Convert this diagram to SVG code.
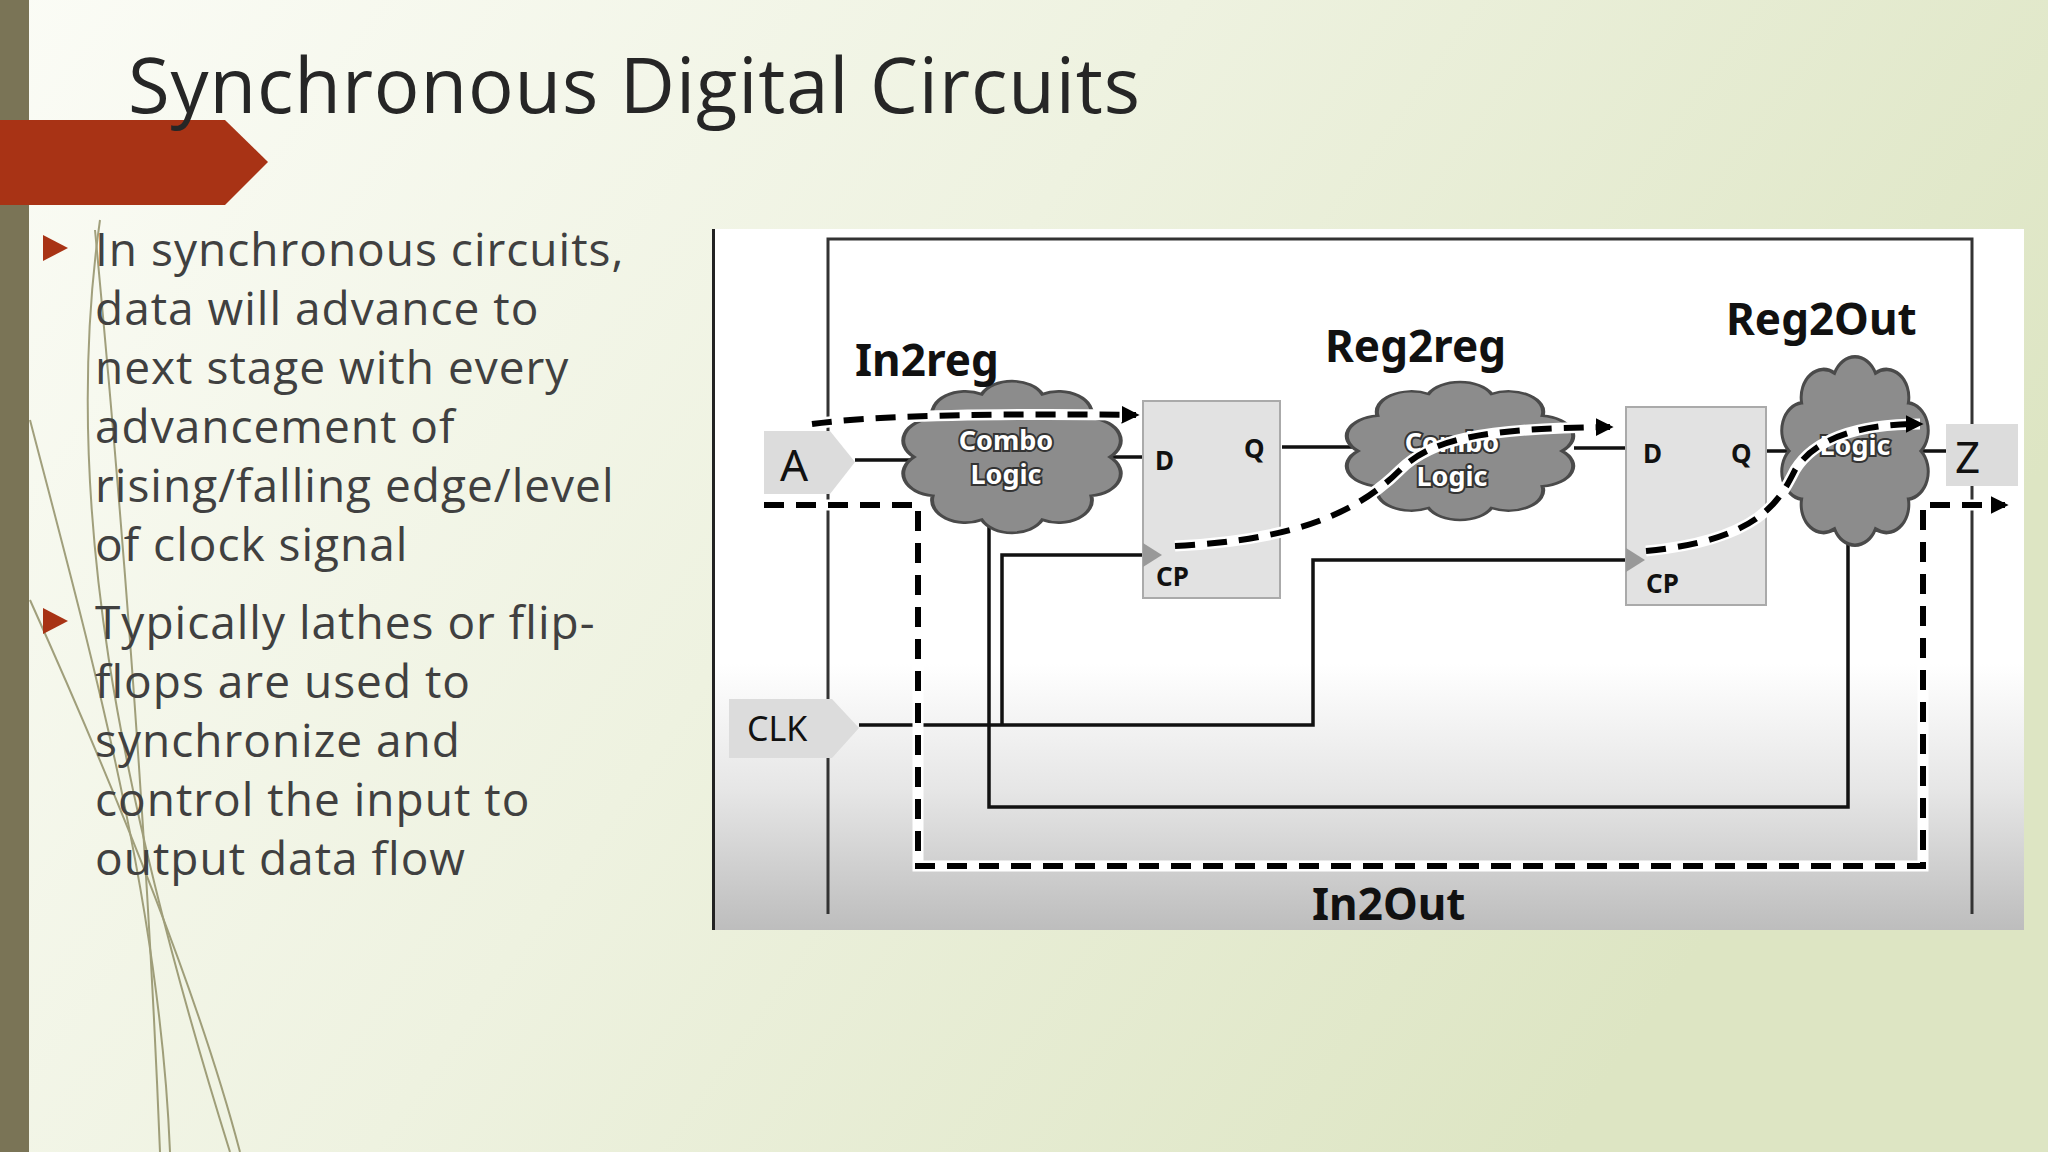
<svg xmlns="http://www.w3.org/2000/svg" width="2048" height="1152" viewBox="0 0 2048 1152">
<defs>
<linearGradient id="bg" x1="0" y1="0" x2="1" y2="0.4"><stop offset="0" stop-color="#fbfcf6"/><stop offset="0.5" stop-color="#eef2e0"/><stop offset="1" stop-color="#dde5c3"/></linearGradient>
<linearGradient id="pic" x1="0" y1="0" x2="0" y2="1"><stop offset="0" stop-color="#ffffff"/><stop offset="0.62" stop-color="#ffffff"/><stop offset="0.8" stop-color="#e6e6e6"/><stop offset="1" stop-color="#bdbdbd"/></linearGradient>
<path id="cloud" d="M1,0 A0.34,0.34 0 0 1 0.809,0.588 A0.34,0.34 0 0 1 0.309,0.951 A0.34,0.34 0 0 1 -0.309,0.951 A0.34,0.34 0 0 1 -0.809,0.588 A0.34,0.34 0 0 1 -1,0 A0.34,0.34 0 0 1 -0.809,-0.588 A0.34,0.34 0 0 1 -0.309,-0.951 A0.34,0.34 0 0 1 0.309,-0.951 A0.34,0.34 0 0 1 0.809,-0.588 A0.34,0.34 0 0 1 1,0 Z"/>
<marker id="ah" viewBox="0 0 10 10" refX="8" refY="5" markerWidth="3" markerHeight="3" orient="auto"><path d="M0,0 L10,5 L0,10 Z" fill="#000"/></marker>
</defs>
<style>
.body{font-family:"Open Sans","Noto Sans",sans-serif;font-size:46px;letter-spacing:1px;fill:#404040}
.lbl{font-family:"Noto Sans","DejaVu Sans",sans-serif;font-weight:bold;fill:#111;font-size:44px}
.pin{font-family:"Noto Sans",sans-serif;font-weight:bold;font-size:26px;fill:#111}
.ct{font-family:"Noto Sans",sans-serif;font-weight:bold;font-size:27px;fill:#fff;stroke:#333;stroke-width:4;paint-order:stroke;text-anchor:middle}
.solid{fill:none;stroke:#111;stroke-width:3.5}
.halo{fill:none;stroke:#fff;stroke-width:11}
.dash{fill:none;stroke:#000;stroke-width:6;stroke-dasharray:20 12}
.cl{fill:#8c8c8c;stroke:#4a4a4a}
.ff{fill:#e2e2e2;stroke:#aaa;stroke-width:2}
.io{fill:#dcdcdc}
</style>
<rect width="2048" height="1152" fill="url(#bg)"/>
<rect x="0" y="0" width="29" height="1152" fill="#7a7456"/>
<g fill="none" stroke="#7d7a4c" stroke-width="2" opacity="0.7">
<path d="M100,220 C60,500 120,800 230,1152"/>
<path d="M30,420 C90,650 160,900 170,1152"/>
<path d="M30,600 C120,800 200,1000 240,1152"/>
<path d="M95,230 C130,600 150,900 160,1152"/>
</g>
<path d="M0,120 L225,120 L268,162 L225,205 L0,205 Z" fill="#a83315"/>
<text x="128" y="113" font-family="'Open Sans','Noto Sans',sans-serif" font-size="76" fill="#262626" textLength="1012">Synchronous Digital Circuits</text>
<path d="M43,235 L68,248 L43,261 Z" fill="#a83315"/>
<path d="M43,608 L68,621 L43,634 Z" fill="#a83315"/>
<g class="body">
<text x="95" y="266">In synchronous circuits,</text>
<text x="95" y="325">data will advance to</text>
<text x="95" y="384">next stage with every</text>
<text x="95" y="443">advancement of</text>
<text x="95" y="502">rising/falling edge/level</text>
<text x="95" y="561">of clock signal</text>
<text x="95" y="639">Typically lathes or flip-</text>
<text x="95" y="698">flops are used to</text>
<text x="95" y="757">synchronize and</text>
<text x="95" y="816">control the input to</text>
<text x="95" y="875">output data flow</text>
</g>
<g id="picture">
<rect x="712" y="229" width="1312" height="701" fill="url(#pic)"/>
<path d="M828,914 L828,239 L1972,239 L1972,914" fill="none" stroke="#333" stroke-width="3"/>
<rect x="712" y="229" width="3" height="701" fill="#222"/>
</g>
<g id="connectors">
<path class="solid" d="M855,460 H920 M1108,457 H1143 M1282,447 H1352 M1574,448 H1626 M1766,451 H1790 M1920,451 H1946"/>
<path class="solid" d="M859,725 H1313 V560 H1626"/>
<path class="solid" d="M1002,725 V555 H1143"/>
<path class="solid" d="M989,515 V807 H1848 V515"/>
</g>
<g id="cloud1"><use href="#cloud" class="cl" transform="translate(1012,457) scale(98,66)" style="stroke-width:0.04"/>
<text class="ct" x="1006" y="450">Combo</text><text class="ct" x="1006" y="484">Logic</text></g>
<g id="cloud2"><use href="#cloud" class="cl" transform="translate(1460,451) scale(102,60)" style="stroke-width:0.04"/>
<text class="ct" x="1452" y="452">Combo</text><text class="ct" x="1452" y="486">Logic</text></g>
<g id="cloud3"><use href="#cloud" class="cl" transform="translate(1855,451) scale(66,82)" style="stroke-width:0.045"/>
<text class="ct" x="1855" y="455">Logic</text></g>
<g id="ff1"><rect class="ff" x="1143" y="401" width="137" height="197"/>
<path d="M1143,543 L1162,555 L1143,567 Z" fill="#999"/>
<text class="pin" x="1155" y="470">D</text><text class="pin" x="1244" y="458">Q</text><text class="pin" x="1156" y="586">CP</text></g>
<g id="ff2"><rect class="ff" x="1626" y="407" width="140" height="198"/>
<path d="M1626,548 L1645,560 L1626,572 Z" fill="#999"/>
<text class="pin" x="1643" y="463">D</text><text class="pin" x="1731" y="463">Q</text><text class="pin" x="1646" y="593">CP</text></g>
<g id="inA"><path class="io" d="M764,431 H830 L855,462 L830,494 H764 Z"/><text x="780" y="481" font-family="'Noto Sans',sans-serif" font-size="44" fill="#111">A</text></g>
<g id="inCLK"><path class="io" d="M729,699 H832 L859,728 L832,758 H729 Z"/><text x="747" y="741" font-family="'Noto Sans',sans-serif" font-size="34" fill="#111">CLK</text></g>
<g id="outZ"><path class="io" d="M1946,424 H2018 V486 H1946 Z"/><text x="1955" y="473" font-family="'Noto Sans',sans-serif" font-size="44" fill="#111">Z</text></g>
<g id="dashed">
<path class="halo" d="M812,424 Q900,412 1136,415"/>
<path class="dash" d="M812,424 Q900,412 1136,415" marker-end="url(#ah)"/>
<path class="halo" d="M764,505 H918 V866 H1923 V505 H2005"/>
<path class="dash" d="M764,505 H918 V866 H1923 V505 H2005" marker-end="url(#ah)"/>
<path class="halo" d="M1175,546 C1300,540 1360,510 1400,470 C1430,440 1480,428 1610,427"/>
<path class="dash" d="M1175,546 C1300,540 1360,510 1400,470 C1430,440 1480,428 1610,427" marker-end="url(#ah)"/>
<path class="halo" d="M1646,551 C1760,540 1780,500 1795,470 C1820,430 1880,424 1920,424"/>
<path class="dash" d="M1646,551 C1760,540 1780,500 1795,470 C1820,430 1880,424 1920,424" marker-end="url(#ah)"/>
</g>
<g id="labels" class="lbl">
<text x="855" y="376">In2reg</text>
<text x="1325" y="362">Reg2reg</text>
<text x="1726" y="335">Reg2Out</text>
<text x="1312" y="920">In2Out</text>
</g>
</svg>
